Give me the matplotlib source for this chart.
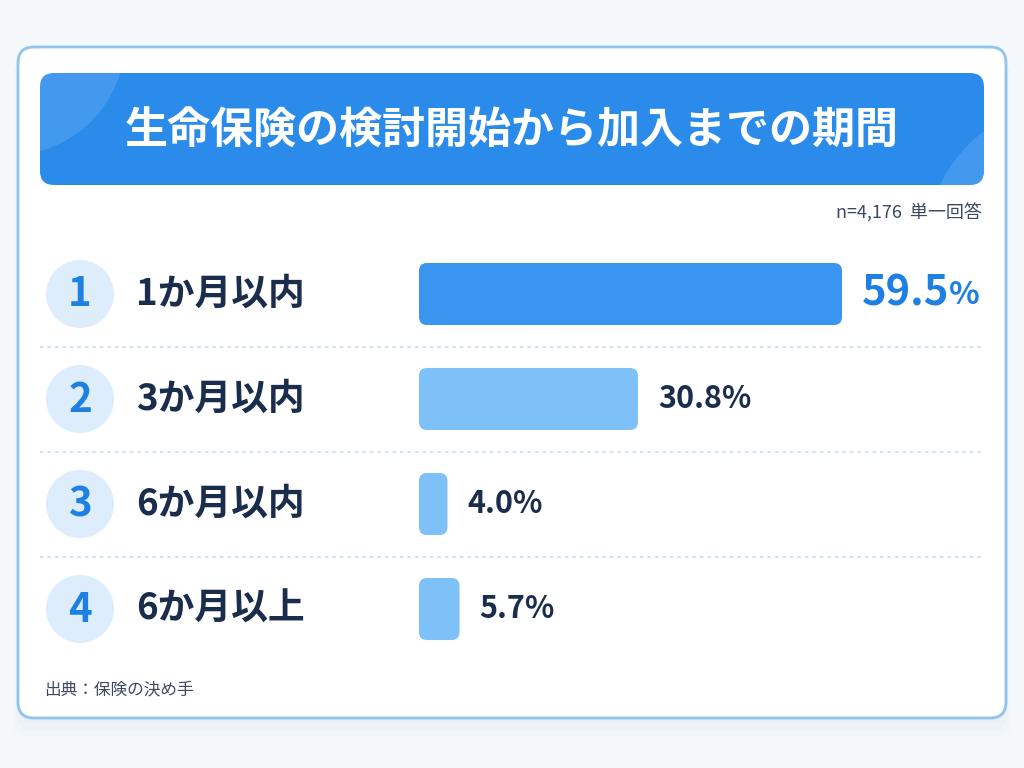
import matplotlib
matplotlib.use("Agg")
import matplotlib.pyplot as plt
from matplotlib.patches import FancyBboxPatch, Circle

plt.rcParams['font.family'] = ['Noto Sans CJK JP', 'DejaVu Sans']

title = '生命保険の検討開始から加入までの期間'
note = 'n=4,176  単一回答'
source = '出典：保険の決め手'
ranks = ['1', '2', '3', '4']
labels = ['1か月以内', '3か月以内', '6か月以内', '6か月以上']
values = [59.5, 30.8, 4.0, 5.7]

NAVY = '#1B2D4D'
BLUE = '#1F80E3'

fig = plt.figure(figsize=(10.24, 7.68), dpi=100)
fig.patch.set_facecolor('#F5F8FB')

# background axes in pixel coordinates
bg = fig.add_axes([0, 0, 1, 1])
bg.set_xlim(0, 1024)
bg.set_ylim(768, 0)
bg.axis('off')

# soft shadow under the card
for k, a in enumerate([0.05, 0.04, 0.03, 0.02]):
    bg.add_patch(FancyBboxPatch((18 - 2 * k, 52 + 3 * k), 988 + 4 * k, 671 + 4 * k,
                                boxstyle='round,pad=0,rounding_size=18',
                                fc='#9FC3E6', ec='none', alpha=a, zorder=0))

card = FancyBboxPatch((18, 47), 988, 671, boxstyle='round,pad=0,rounding_size=16',
                      fc='white', ec='#8FC4F1', lw=2, zorder=1)
bg.add_patch(card)

banner = FancyBboxPatch((40, 73), 944, 112, boxstyle='round,pad=0,rounding_size=14',
                        fc='#2A8BEB', ec='none', zorder=2)
bg.add_patch(banner)
for cx, cy, r in [(10, 40, 115), (1075, 250, 150)]:
    c = Circle((cx, cy), r, fc='white', ec='none', alpha=0.12, zorder=3)
    bg.add_patch(c)
    c.set_clip_path(banner)

bg.text(512, 131, title, fontsize=31, fontweight='bold', color='white',
        ha='center', va='center', zorder=4)
bg.text(982, 213, note, fontsize=13, color='#3A4A62', ha='right', va='center', zorder=4)
bg.text(44, 690, source, fontsize=12, color='#3A4A62', ha='left', va='center', zorder=4)

row_y = [294 + 105 * i for i in range(len(labels))]
for i, (rk, lab) in enumerate(zip(ranks, labels)):
    y = row_y[i]
    bg.add_patch(Circle((80, y), 34, fc='#DDEDFB', ec='none', zorder=3))
    bg.text(80, y + 1, rk, fontsize=29, fontweight='bold', color=BLUE,
            ha='center', va='center', zorder=4)
    bg.text(136, y, lab, fontsize=26.5, fontweight='bold', color=NAVY,
            ha='left', va='center', zorder=4)
    if i < len(labels) - 1:
        bg.plot([40, 984], [y + 53, y + 53], color='#C6DDF2', lw=1.2,
                linestyle=(0, (2, 2.5)), zorder=3)

# bar axes
px_left, px_right = 419, 1006
px_per_unit = 423 / 59.5
top_px, bot_px = 241.5, 661.5
ax = fig.add_axes([px_left / 1024, (768 - bot_px) / 768,
                   (px_right - px_left) / 1024, (bot_px - top_px) / 768])
ax.set_xlim(0, (px_right - px_left) / px_per_unit)
ax.set_ylim(len(values) - 0.5, -0.5)
ax.axis('off')
ax.patch.set_alpha(0)

bar_h = 62 / 105
bars = ax.barh(range(len(values)), values, height=bar_h, color='none')
radius = 8 / px_per_unit
aspect = px_per_unit / 105
for i, b in enumerate(bars):
    fc = '#3A95F0' if i == 0 else '#7EC0F8'
    ax.add_patch(FancyBboxPatch((b.get_x(), b.get_y()), b.get_width(), b.get_height(),
                                boxstyle=f'round,pad=0,rounding_size={radius}',
                                mutation_aspect=aspect, fc=fc, ec='none', zorder=3))
    off = 20 / px_per_unit
    if i == 0:
        t = ax.text(values[i] + off, i, f'{values[i]:.1f}', fontsize=30, fontweight='bold',
                    color=BLUE, ha='left', va='center')
        ax.annotate('%', xy=(1, 0), xycoords=t, xytext=(0, 3), textcoords='offset points',
                    fontsize=23, fontweight='bold', color=BLUE, ha='left', va='bottom')
    else:
        ax.text(values[i] + off, i, f'{values[i]:.1f}%', fontsize=22, fontweight='bold',
                color=NAVY, ha='left', va='center')

fig.savefig('out.png', dpi=100, facecolor=fig.get_facecolor())
